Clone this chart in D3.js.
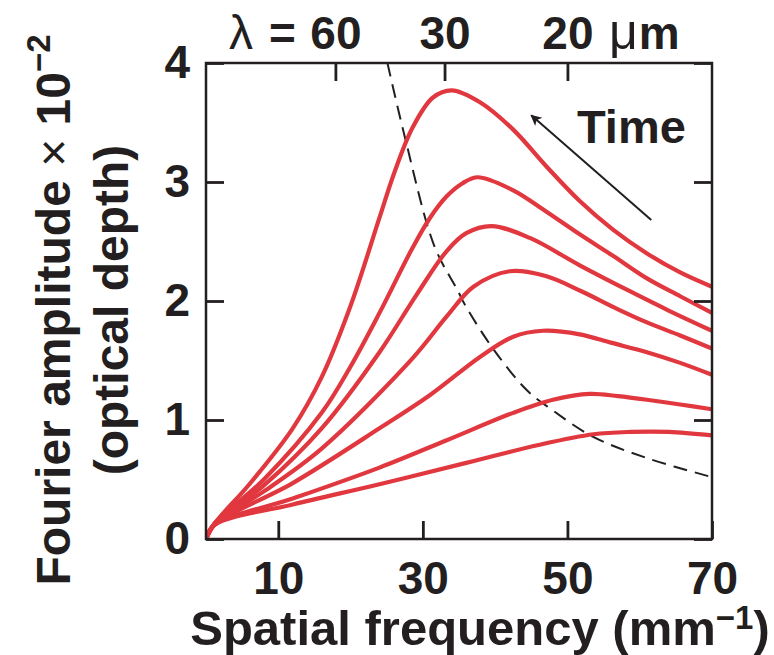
<!DOCTYPE html>
<html><head><meta charset="utf-8">
<script src="https://cdn.jsdelivr.net/npm/d3@7"></script>
<style>body{margin:0;background:#fff} svg{display:block}</style>
</head><body><svg id="c" width="774" height="655"></svg>
<script>
// ---------- data ----------
const xTicks = [10, 30, 50, 70];
const yTicks = [0, 1, 2, 3, 4];
const topTickFreq = [17.9, 33.0, 50.0];
const topTickLabels = ["60", "30", "20"];

const freq1 = [0, 1.2, 6, 12, 16, 20, 24, 26, 28.6, 31.4, 34, 37.9, 42.5, 47.1, 51.7, 56.3, 61, 65.6, 70];
const amp1  = [0, 0.13, 0.46, 0.93, 1.36, 1.96, 2.7, 3.07, 3.46, 3.71, 3.77, 3.67, 3.44, 3.13, 2.84, 2.6, 2.4, 2.24, 2.12];
const freq2 = [0, 1.2, 8, 16, 20, 24, 28.6, 31, 33.3, 35.5, 37.6, 42.5, 47.1, 51.7, 56.3, 61, 65.6, 70];
const amp2  = [0, 0.13, 0.5, 1.06, 1.45, 1.9, 2.45, 2.7, 2.88, 2.99, 3.04, 2.93, 2.75, 2.56, 2.38, 2.19, 2.04, 1.9];
const freq3 = [0, 1.2, 8, 16, 24, 29.1, 33.3, 36, 39.5, 44.8, 51.7, 58.7, 64, 70];
const amp3  = [0, 0.13, 0.45, 0.93, 1.57, 2.05, 2.42, 2.57, 2.63, 2.53, 2.3, 2.08, 1.92, 1.75];
const freq4 = [0, 1.2, 8, 16, 28.6, 33.3, 37, 42, 47, 52, 57, 61, 65.6, 70];
const amp4  = [0, 0.13, 0.4, 0.76, 1.52, 1.87, 2.12, 2.25, 2.21, 2.08, 1.93, 1.82, 1.71, 1.6];
const freq5 = [0, 1.2, 12, 24, 31, 37.9, 42.5, 46.6, 51.7, 56, 61, 65.6, 70];
const amp5  = [0, 0.12, 0.47, 0.93, 1.21, 1.53, 1.7, 1.75, 1.72, 1.65, 1.57, 1.48, 1.38];
const freq6 = [0, 1.2, 12, 24, 33.3, 42.5, 48, 53.1, 57, 61, 65.6, 70];
const amp6  = [0, 0.12, 0.34, 0.6, 0.83, 1.06, 1.17, 1.22, 1.2, 1.17, 1.13, 1.09];
const freq7 = [0, 1.2, 12, 24, 36, 46, 53.6, 58.7, 64, 70];
const amp7  = [0, 0.12, 0.29, 0.46, 0.64, 0.79, 0.88, 0.9, 0.9, 0.87];

const dashedFreq = [25.1, 27.5, 31.6, 34.8, 35.8, 39.7, 44.4, 48, 53.5, 61, 70];
const dashedAmp  = [4.0, 3.38, 2.46, 2.09, 1.97, 1.6, 1.25, 1.08, 0.86, 0.68, 0.52];

const arrowFreq = [61.6, 45.0];   // tail, head
const arrowAmp  = [2.68, 3.56];

// ---------- drawing ----------
const RED = "#e1373f", INK = "#231f20";
const FONT = "'Liberation Sans', Arial, Helvetica, sans-serif";
const svg = d3.select("#c");
const x = d3.scaleLinear().domain([0, 70]).range([206, 712]);
const y = d3.scaleLinear().domain([0, 4]).range([539, 63]);

const defs = svg.append("defs");
defs.append("clipPath").attr("id", "clip")
  .append("rect").attr("x", x(0)).attr("y", y(4)).attr("width", x(70) - x(0)).attr("height", y(0) - y(4));
defs.append("marker").attr("id", "ah")
  .attr("viewBox", "0 0 10 10").attr("refX", 9).attr("refY", 5)
  .attr("markerUnits", "userSpaceOnUse").attr("markerWidth", 18).attr("markerHeight", 11)
  .attr("orient", "auto")
  .append("path").attr("d", "M0,0 L10,5 L0,10 L2.5,5 Z").attr("fill", INK);

const redLine = d3.line().x(d => x(d[0])).y(d => y(d[1])).curve(d3.curveCatmullRom.alpha(0.5));
const dashLine = d3.line().x(d => x(d[0])).y(d => y(d[1])).curve(d3.curveCatmullRom.alpha(0.5));
const series = [[freq1, amp1], [freq2, amp2], [freq3, amp3], [freq4, amp4], [freq5, amp5], [freq6, amp6], [freq7, amp7]];

const plot = svg.append("g").attr("clip-path", "url(#clip)");
plot.append("path").datum(d3.zip(dashedFreq, dashedAmp))
  .attr("d", dashLine).attr("fill", "none")
  .attr("stroke", INK).attr("stroke-width", 2).attr("stroke-dasharray", "14,8");
series.forEach(([f, a]) => {
  plot.append("path").datum(d3.zip(f, a)).attr("d", redLine)
    .attr("fill", "none").attr("stroke", RED).attr("stroke-width", 4.2)
    .attr("stroke-linejoin", "round").attr("stroke-linecap", "round");
});

// frame
svg.append("rect").attr("x", x(0)).attr("y", y(4)).attr("width", x(70) - x(0)).attr("height", y(0) - y(4))
  .attr("fill", "none").attr("stroke", INK).attr("stroke-width", 2.5);

function styleAxis(g) {
  g.select(".domain").remove();
  g.selectAll(".tick line").attr("stroke", INK).attr("stroke-width", 2.8);
  g.selectAll("text").attr("fill", INK).attr("font-family", FONT).attr("font-weight", "bold").attr("font-size", 46);
}
svg.append("g").attr("transform", `translate(0,${y(0)})`)
  .call(d3.axisBottom(x).tickValues(xTicks).tickSize(-18).tickPadding(22).tickFormat(d3.format("d")))
  .call(styleAxis);
svg.append("g").attr("transform", `translate(${x(0)},0)`)
  .call(d3.axisLeft(y).tickValues(yTicks).tickSize(-18).tickPadding(16).tickFormat(d3.format("d")))
  .call(styleAxis);
svg.append("g").attr("transform", `translate(${x(70)},0)`)
  .call(d3.axisRight(y).tickValues(yTicks).tickSize(-18).tickFormat(""))
  .call(styleAxis);
const topAxis = svg.append("g").attr("transform", `translate(0,${y(4)})`)
  .call(d3.axisTop(x).tickValues(topTickFreq).tickSize(-18).tickPadding(14).tickFormat((d, i) => topTickLabels[i]))
  .call(styleAxis);

// λ = and μm decorations on top labels
const topTexts = topAxis.selectAll(".tick text").nodes();
const firstBox = topTexts[0].getBBox(), lastBox = topTexts[topTexts.length - 1].getBBox();
const firstX = x(topTickFreq[0]) + firstBox.x;
const lastX = x(topTickFreq[topTickFreq.length - 1]) + lastBox.x + lastBox.width;
const topBase = y(4) - 14;
const lam = svg.append("text").attr("x", firstX - 14).attr("y", topBase).attr("text-anchor", "end")
  .attr("font-family", FONT).attr("font-size", 46).attr("font-weight", "bold").attr("fill", INK);
lam.append("tspan").attr("font-weight", "normal").attr("font-size", 48).text("λ");
lam.append("tspan").attr("dx", 16).text("=");
const mu = svg.append("text").attr("x", lastX + 16).attr("y", topBase)
  .attr("font-family", FONT).attr("font-size", 46).attr("font-weight", "bold").attr("fill", INK);
mu.append("tspan").attr("font-weight", "normal").attr("font-size", 50).text("μ");
mu.append("tspan").attr("dx", 1).text("m");

// arrow + Time
svg.append("line").attr("x1", x(arrowFreq[0])).attr("y1", y(arrowAmp[0]))
  .attr("x2", x(arrowFreq[1])).attr("y2", y(arrowAmp[1]))
  .attr("stroke", INK).attr("stroke-width", 2).attr("marker-end", "url(#ah)");
svg.append("text").attr("x", 577).attr("y", 143).text("Time")
  .attr("font-family", FONT).attr("font-size", 47).attr("font-weight", "bold").attr("fill", INK);

// axis titles
const xt = svg.append("text").attr("x", 480).attr("y", 645).attr("text-anchor", "middle")
  .attr("font-family", FONT).attr("font-size", 49).attr("font-weight", "bold").attr("fill", INK);
xt.append("tspan").text("Spatial frequency (mm");
xt.append("tspan").attr("font-size", 33).attr("dy", "-0.5em").text("−1");
xt.append("tspan").attr("dy", "0.34em").text(")");

const yt = svg.append("text").attr("transform", "translate(70,310) rotate(-90)").attr("text-anchor", "middle")
  .attr("font-family", FONT).attr("font-size", 48).attr("font-weight", "bold").attr("fill", INK);
yt.append("tspan").text("Fourier amplitude ");
yt.append("tspan").attr("font-weight", "normal").text("×");
yt.append("tspan").text(" 10");
yt.append("tspan").attr("font-size", 33).attr("dy", "-0.6em").text("−2");
svg.append("text").attr("transform", "translate(128,310) rotate(-90)").attr("text-anchor", "middle")
  .attr("font-family", FONT).attr("font-size", 48).attr("font-weight", "bold").attr("fill", INK)
  .text("(optical depth)");
</script></body></html>
